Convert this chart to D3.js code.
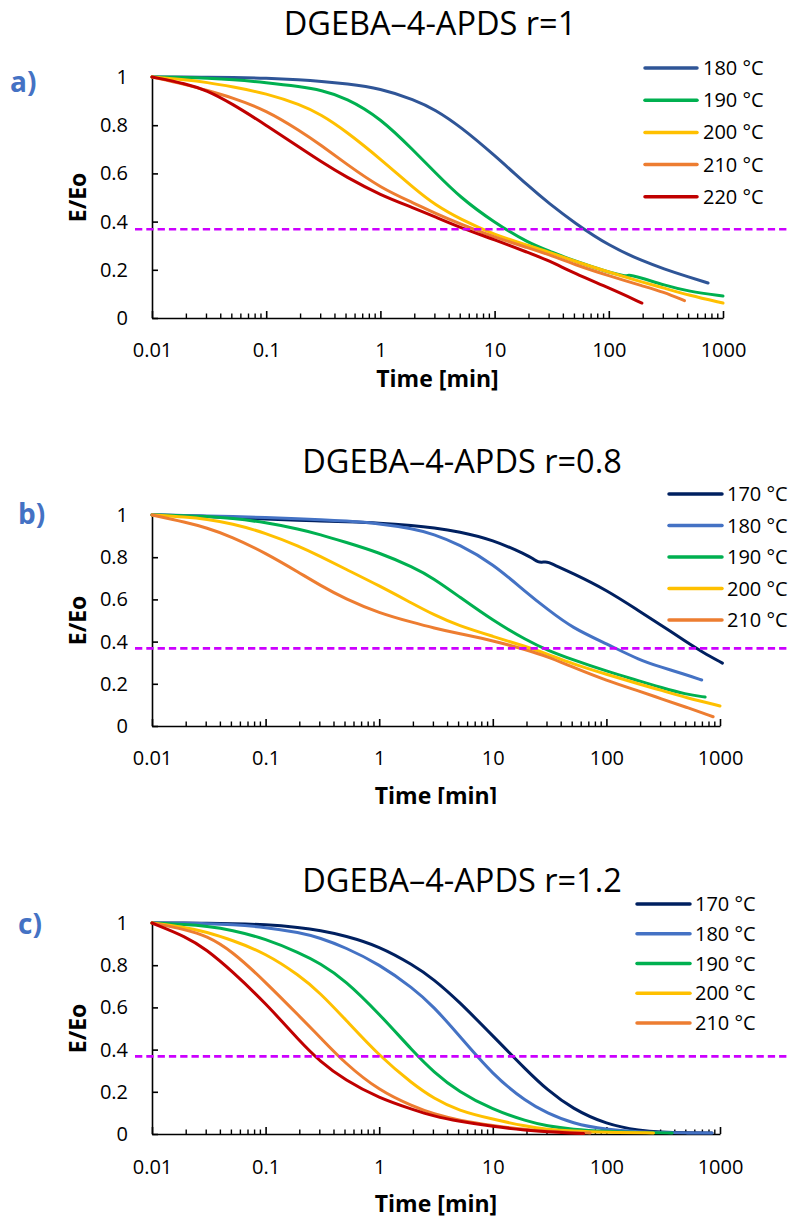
<!DOCTYPE html>
<html><head><meta charset="utf-8">
<script src="https://cdn.jsdelivr.net/npm/d3@7"></script>
<style>
body{margin:0;background:#fff}
svg{display:block}
text{font-family:"Open Sans",sans-serif}
</style>
</head><body>
<svg id="chart" width="788" height="1220"></svg>
<script>
// ---------- DATA ----------
const xTickValues = [0.01, 0.1, 1, 10, 100, 1000];
const xTickLabels = ["0.01", "0.1", "1", "10", "100", "1000"];
const yTickValues = [0, 0.2, 0.4, 0.6, 0.8, 1];
const yTickLabels = ["0", "0.2", "0.4", "0.6", "0.8", "1"];
const thresholdValue = 0.368;

const panelTitles = ["DGEBA\u20134-APDS r=1", "DGEBA\u20134-APDS r=0.8", "DGEBA\u20134-APDS r=1.2"];
const panelLetters = ["a)", "b)", "c)"];
const xAxisTitle = "Time [min]";
const yAxisTitle = "E/Eo";

// panel a (r=1)
const aLegend = ["180 \u00B0C", "190 \u00B0C", "200 \u00B0C", "210 \u00B0C", "220 \u00B0C"];
const a180_t = [0.01,0.02,0.03,0.05,0.1,0.2,0.3,0.5,1,2,3,5,10,20,30,50,100,200,300,500,740];
const a180_e = [1,1,0.999,0.998,0.995,0.988,0.982,0.972,0.953,0.905,0.865,0.795,0.675,0.545,0.475,0.395,0.30,0.235,0.205,0.17,0.145];
const a190_t = [0.01,0.02,0.03,0.05,0.1,0.2,0.3,0.5,1,2,3,5,10,20,30,50,100,120,140,150,160,200,300,500,1000];
const a190_e = [1,0.998,0.995,0.99,0.977,0.96,0.946,0.914,0.83,0.69,0.605,0.50,0.395,0.31,0.278,0.236,0.19,0.181,0.174,0.178,0.176,0.164,0.138,0.11,0.091];
const a200_t = [0.01,0.02,0.03,0.05,0.1,0.2,0.3,0.5,1,2,3,5,10,20,30,50,100,200,300,500,1000];
const a200_e = [1,0.988,0.978,0.96,0.932,0.885,0.845,0.775,0.66,0.535,0.47,0.41,0.345,0.30,0.273,0.236,0.19,0.148,0.125,0.095,0.062];
const a210_t = [0.01,0.02,0.03,0.05,0.1,0.2,0.3,0.5,1,2,3,5,10,20,30,50,100,200,300,460];
const a210_e = [1,0.968,0.945,0.915,0.862,0.775,0.718,0.64,0.54,0.475,0.435,0.39,0.335,0.29,0.263,0.222,0.175,0.132,0.108,0.072];
const a220_t = [0.01,0.02,0.03,0.05,0.1,0.2,0.3,0.5,1,2,3,5,10,20,30,50,100,195];
const a220_e = [1,0.972,0.945,0.89,0.80,0.705,0.65,0.585,0.51,0.455,0.42,0.375,0.325,0.27,0.238,0.185,0.125,0.062];

// panel b (r=0.8)
const bLegend = ["170 \u00B0C", "180 \u00B0C", "190 \u00B0C", "200 \u00B0C", "210 \u00B0C"];
const b170_t = [0.01,0.02,0.03,0.05,0.1,0.2,0.3,0.5,1,2,3,5,10,20,23,25,27,29,31,34,50,100,200,300,500,700,1050];
const b170_e = [1,0.997,0.993,0.988,0.98,0.975,0.972,0.968,0.962,0.95,0.94,0.922,0.883,0.81,0.79,0.777,0.776,0.778,0.776,0.765,0.725,0.645,0.54,0.48,0.40,0.35,0.298];
const b180_t = [0.01,0.02,0.03,0.05,0.1,0.2,0.3,0.5,1,2,3,5,10,20,30,50,100,200,300,500,690];
const b180_e = [1,0.998,0.996,0.993,0.988,0.982,0.978,0.972,0.96,0.935,0.91,0.862,0.77,0.63,0.555,0.465,0.39,0.31,0.28,0.243,0.218];
const b190_t = [0.01,0.02,0.03,0.05,0.1,0.2,0.3,0.5,1,2,3,5,10,20,30,50,100,200,300,500,740];
const b190_e = [1,0.997,0.993,0.985,0.965,0.932,0.908,0.872,0.822,0.752,0.70,0.615,0.50,0.405,0.36,0.315,0.26,0.212,0.183,0.15,0.137];
const b200_t = [0.01,0.02,0.03,0.05,0.1,0.2,0.3,0.5,1,2,3,5,10,20,30,50,100,200,300,500,1000];
const b200_e = [1,0.99,0.98,0.96,0.915,0.85,0.805,0.745,0.665,0.578,0.528,0.475,0.425,0.375,0.342,0.295,0.245,0.197,0.17,0.135,0.095];
const b210_t = [0.01,0.02,0.03,0.05,0.1,0.2,0.3,0.5,1,2,3,5,10,20,30,50,100,200,300,500,870];
const b210_e = [1,0.965,0.94,0.898,0.82,0.725,0.668,0.603,0.535,0.49,0.465,0.438,0.405,0.36,0.33,0.28,0.215,0.163,0.13,0.09,0.044];

// panel c (r=1.2)
const cLegend = ["170 \u00B0C", "180 \u00B0C", "190 \u00B0C", "200 \u00B0C", "210 \u00B0C"];
const c170_t = [0.01,0.02,0.03,0.05,0.1,0.2,0.3,0.5,1,2,3,5,10,20,30,50,100,200,300,500,850];
const c170_e = [1,1,0.999,0.997,0.993,0.978,0.965,0.94,0.89,0.80,0.735,0.63,0.465,0.30,0.21,0.12,0.045,0.015,0.009,0.006,0.005];
const c180_t = [0.01,0.02,0.03,0.05,0.1,0.2,0.3,0.5,1,2,3,5,10,20,30,50,100,200,300,500,850];
const c180_e = [1,0.999,0.997,0.993,0.98,0.955,0.93,0.885,0.805,0.69,0.605,0.47,0.28,0.15,0.1,0.05,0.02,0.01,0.007,0.005,0.005];
const c190_t = [0.01,0.02,0.03,0.05,0.1,0.2,0.3,0.5,1,2,3,5,10,20,30,50,100,200,380];
const c190_e = [1,0.993,0.985,0.968,0.925,0.858,0.81,0.73,0.57,0.39,0.295,0.2,0.115,0.06,0.038,0.022,0.012,0.007,0.005];
const c200_t = [0.01,0.02,0.03,0.05,0.1,0.2,0.3,0.5,1,2,3,5,10,20,30,50,100,260];
const c200_e = [1,0.978,0.958,0.92,0.857,0.75,0.67,0.545,0.37,0.235,0.17,0.11,0.07,0.035,0.022,0.013,0.008,0.005];
const c210_t = [0.01,0.02,0.03,0.05,0.1,0.2,0.3,0.5,1,2,3,5,10,20,30,50,72];
const c210_e = [1,0.968,0.94,0.87,0.72,0.556,0.46,0.335,0.205,0.13,0.095,0.065,0.04,0.02,0.012,0.007,0.005];
const c220_t = [0.01,0.02,0.03,0.05,0.1,0.2,0.3,0.5,1,2,3,5,10,20,30,50,63];
const c220_e = [1,0.935,0.875,0.775,0.62,0.44,0.345,0.255,0.17,0.115,0.085,0.06,0.035,0.018,0.01,0.004,0.002];

// ---------- STYLE / LAYOUT ----------
const colorsA = ["#2F5597", "#00B050", "#FFC000", "#ED7D31", "#C00000"];
const colorsB = ["#002060", "#4472C4", "#00B050", "#FFC000", "#ED7D31"];
const colorsC = ["#002060", "#4472C4", "#00B050", "#FFC000", "#ED7D31", "#C00000"];

const panels = [
  { series: [[a180_t,a180_e],[a190_t,a190_e],[a200_t,a200_e],[a210_t,a210_e],[a220_t,a220_e]],
    colors: colorsA, legend: aLegend,
    top: 77, bottom: 318, left: 152, right: 723,
    titleX: 430, titleY: 35, letterX: 10, letterY: 92,
    lg: {x1: 645, x2: 697, tx: 703, y0: 68, dy: 32.2},
    xTitleY: 387, tickPad: 25, clipY: null },
  { series: [[b170_t,b170_e],[b180_t,b180_e],[b190_t,b190_e],[b200_t,b200_e],[b210_t,b210_e]],
    colors: colorsB, legend: bLegend,
    top: 515, bottom: 726, left: 152, right: 720,
    titleX: 462, titleY: 473, letterX: 18, letterY: 524,
    lg: {x1: 669, x2: 722, tx: 727, y0: 494, dy: 31.5},
    xTitleY: 804, tickPad: 25, clipY: 804 },
  { series: [[c170_t,c170_e],[c180_t,c180_e],[c190_t,c190_e],[c200_t,c200_e],[c210_t,c210_e],[c220_t,c220_e]],
    colors: colorsC, legend: cLegend,
    top: 923, bottom: 1134, left: 152, right: 720,
    titleX: 462, titleY: 892, letterX: 18, letterY: 934,
    lg: {x1: 637, x2: 690, tx: 695, y0: 904, dy: 29.75},
    xTitleY: 1212, tickPad: 26, clipY: null }
];

const svg = d3.select("#chart");
const defs = svg.append("defs");

panels.forEach((p, i) => {
  const g = svg.append("g");
  if (p.clipY) {
    defs.append("clipPath").attr("id", "clip" + i)
      .append("rect").attr("x", 0).attr("y", 0).attr("width", 788).attr("height", p.clipY);
  }
  const x = d3.scaleLog().domain([0.01, 1000]).range([p.left, p.right]);
  const y = d3.scaleLinear().domain([0, 1]).range([p.bottom, p.top]);

  g.append("text").attr("x", p.titleX).attr("y", p.titleY)
    .attr("text-anchor", "middle").attr("font-size", 32.5).attr("fill", "#000")
    .text(panelTitles[i]);
  g.append("text").attr("x", p.letterX).attr("y", p.letterY)
    .attr("font-size", 28).attr("font-weight", "bold").attr("fill", "#4472C4")
    .text(panelLetters[i]);

  const yAxis = d3.axisLeft(y).tickValues(yTickValues)
    .tickFormat((d, k) => yTickLabels[k]).tickSizeInner(-6).tickSizeOuter(0).tickPadding(24);
  const yg = g.append("g").attr("transform", `translate(${p.left},0)`).call(yAxis);
  yg.selectAll("text").attr("font-size", 20).attr("font-family", "Open Sans").attr("fill", "#000");
  yg.selectAll("line,path").attr("stroke", "#000").attr("stroke-width", 1.6);

  const xAxis = d3.axisBottom(x).tickValues(xTickValues)
    .tickFormat((d, k) => xTickLabels[k]).tickSizeInner(-7).tickSizeOuter(0).tickPadding(p.tickPad);
  const xg = g.append("g").attr("transform", `translate(0,${p.bottom})`).call(xAxis);
  xg.selectAll("text").attr("font-size", 20).attr("font-family", "Open Sans").attr("fill", "#000");
  xg.selectAll("line,path").attr("stroke", "#000").attr("stroke-width", 1.6);
  const minor = [];
  for (let e = -2; e < 3; e++) for (let m = 2; m <= 9; m++) minor.push(m * Math.pow(10, e));
  xg.selectAll(".minor").data(minor).enter().append("line")
    .attr("x1", d => x(d)).attr("x2", d => x(d)).attr("y1", 0).attr("y2", -4.5)
    .attr("stroke", "#000").attr("stroke-width", 1.4);

  const xt = g.append("text").attr("x", (p.left + p.right) / 2).attr("y", p.xTitleY)
    .attr("text-anchor", "middle").attr("font-size", 23).attr("font-weight", "bold")
    .text(xAxisTitle);
  if (p.clipY) xt.attr("clip-path", `url(#clip${i})`);
  g.append("text").attr("transform", `translate(86,${(p.top + p.bottom) / 2}) rotate(-90)`)
    .attr("text-anchor", "middle").attr("font-size", 23).attr("font-weight", "bold")
    .text(yAxisTitle);

  const line = d3.line().x(d => x(d[0])).y(d => y(d[1])).curve(d3.curveBasis);
  p.series.forEach((s, k) => {
    const pts = s[0].map((t, j) => [t, s[1][j]]);
    g.append("path").datum(pts).attr("d", line)
      .attr("fill", "none").attr("stroke", p.colors[k]).attr("stroke-width", 3)
      .attr("stroke-linecap", "round").attr("stroke-linejoin", "round");
  });

  g.append("line").attr("x1", 135).attr("x2", 788)
    .attr("y1", y(thresholdValue)).attr("y2", y(thresholdValue))
    .attr("stroke", "#CC00FF").attr("stroke-width", 2.6).attr("stroke-dasharray", "7.3,4");

  p.legend.forEach((lab, k) => {
    const yy = p.lg.y0 + k * p.lg.dy;
    g.append("line").attr("x1", p.lg.x1).attr("x2", p.lg.x2).attr("y1", yy).attr("y2", yy)
      .attr("stroke", p.colors[k]).attr("stroke-width", 3.5).attr("stroke-linecap", "round");
    g.append("text").attr("x", p.lg.tx).attr("y", yy).attr("dy", "0.35em")
      .attr("font-size", 20).attr("fill", "#000").text(lab);
  });
});
</script>
</body></html>
